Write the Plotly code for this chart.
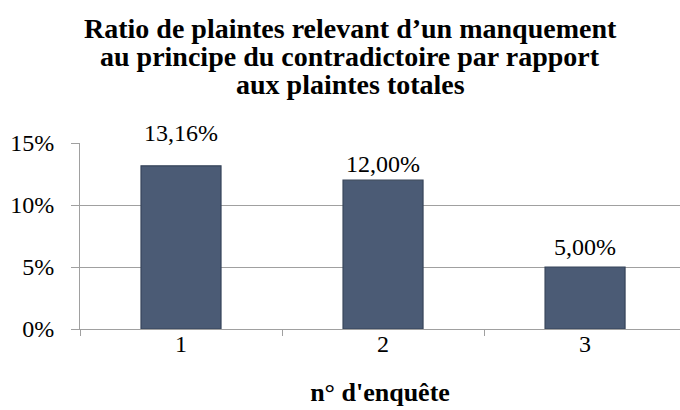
import plotly.graph_objects as go

categories = ["1", "2", "3"]
values = [13.16, 12.00, 5.00]
y_ticks = [0, 5, 10, 15]
y_tick_labels = ["0%", "5%", "10%", "15%"]
title_lines = ["Ratio de plaintes relevant d\u2019un manquement",
               "au principe du contradictoire par rapport",
               "aux plaintes totales"]
x_title = "n° d'enquête"

label_shift = [18, 1, 5]
title_y = [1.522, 1.371, 1.221]
FONT = "Liberation Serif, Times New Roman, serif"

labels = [f"{v:.2f}%".replace(".", ",") for v in values]

fig = go.Figure()
fig.add_trace(go.Bar(
    x=categories, y=values,
    width=0.396,
    marker=dict(color="#4b5b75", line=dict(color="#36445a", width=1.2)),
    hoverinfo="skip",
))

for i, (v, t, s) in enumerate(zip(values, labels, label_shift)):
    fig.add_annotation(x=i, y=v, xref="x", yref="y", text=t, showarrow=False,
                       yanchor="bottom", yshift=s,
                       font=dict(family=FONT, size=24, color="black"))

for line, yy in zip(title_lines, title_y):
    fig.add_annotation(x=0.45, y=yy, xref="paper", yref="paper",
                       text="<b>%s</b>" % line, showarrow=False,
                       xanchor="center", yanchor="bottom",
                       font=dict(family=FONT, size=28, color="black"))

fig.update_layout(
    width=680, height=410,
    margin=dict(l=80, r=0, t=143, b=81),
    paper_bgcolor="white", plot_bgcolor="white",
    showlegend=False,
    font=dict(family=FONT, color="black"),
)
fig.update_xaxes(
    type="category", range=[-0.5, 2.47], automargin=False,
    showline=True, linecolor="#a0a0a0", linewidth=1,
    ticks="outside", tickson="boundaries", ticklen=6, tickcolor="#a0a0a0",
    ticklabelstandoff=-7,
    tickfont=dict(family=FONT, size=24, color="black"),
    showgrid=False,
    title=dict(text="<b>%s</b>" % x_title, standoff=27,
               font=dict(family=FONT, size=26, color="black")),
)
fig.update_yaxes(
    range=[0, 15], tickvals=y_ticks, ticktext=y_tick_labels, automargin=False,
    showline=True, linecolor="#a0a0a0", linewidth=1,
    ticks="outside", ticklen=8, tickcolor="#a0a0a0",
    ticklabelstandoff=12,
    tickfont=dict(family=FONT, size=24, color="black"),
    showgrid=True, gridcolor="#a0a0a0", gridwidth=1,
    zeroline=False,
)

fig.write_html("out.html", config={"displayModeBar": False},
               post_script="document.body.style.margin='0';")
